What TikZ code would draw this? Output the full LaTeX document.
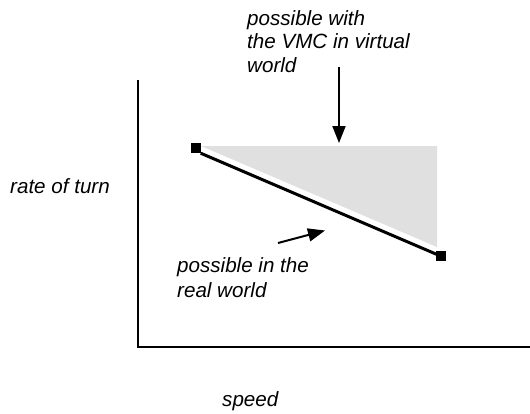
\documentclass[tikz,border=0pt]{standalone}
\usepackage{fontspec}
\setmainfont{Liberation Sans}
\usetikzlibrary{arrows.meta, positioning}
\definecolor{regiongray}{RGB}{224,224,224}

\begin{document}
\begin{tikzpicture}[x=1pt, y=-1pt,
    endpoint/.style={fill=black, minimum size=10pt, inner sep=0pt},
    caption/.style={font=\fontsize{20.6}{23.5}\selectfont\itshape, align=left, inner sep=0pt, anchor=base west},
    pointer/.style={line width=2pt, -{Triangle[length=17pt, width=13pt]}}]
    \useasboundingbox (0,0) rectangle (530,413);

    % Axes
    \coordinate (origin) at (138,347);
    \coordinate (ytop) at (138,80);
    \coordinate (xend) at (530,347);
    \draw[line width=2.5pt] (ytop) -- (origin) -- (xend);

    % Axis labels
    \node[caption] (ylabel) at (10,193) {rate of turn};
    \node[caption] (xlabel) at (222,406) {speed};

    % End points of the real-world line
    \node[endpoint] (hi) at (195.5,148) {};
    \node[endpoint] (lo) at (440.5,256) {};

    % Region possible in the virtual world
    \fill[regiongray] (201,146) -- (437,146) -- (437,247) -- cycle;

    % Real world line
    \draw[line width=3pt] (hi.south east) -- (lo.center);

    % Labels with pointers (base = last line)
    \node[caption] (virt) at (247,72) {possible with\\the VMC in virtual\\world};
    \coordinate (virtfrom) at (339,67);
    \coordinate (virtto) at (339,143);
    \draw[pointer] (virtfrom) -- (virtto);

    \node[caption, font=\fontsize{20.6}{25}\selectfont\itshape] (real) at (177,297) {possible in the\\real world};
    \coordinate (realfrom) at (278,243);
    \coordinate (realto) at (325,230.5);
    \draw[pointer] (realfrom) -- (realto);
\end{tikzpicture}
\end{document}
